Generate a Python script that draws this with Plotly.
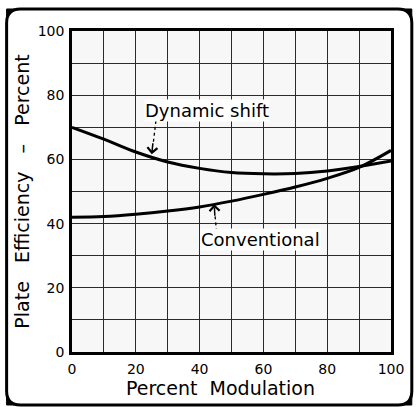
import plotly.graph_objects as go

# ---- data ----
modulation = [0, 10, 20, 30, 40, 50, 60, 70, 80, 90, 100]
dynamic_shift = [70, 66.3, 62.3, 59.2, 57.2, 55.9, 55.5, 55.6, 56.4, 57.8, 59.5]
conventional = [42, 42.2, 42.9, 43.9, 45.2, 47.0, 49.1, 51.4, 54.1, 57.5, 62.8]
x_tickvals = [0, 10, 20, 30, 40, 50, 60, 70, 80, 90, 100]
x_ticktext = ["0", "", "20", "", "40", "", "60", "", "80", "", "100"]
y_tickvals = [0, 10, 20, 30, 40, 50, 60, 70, 80, 90, 100]
y_ticktext = ["0", "", "20", "", "40", "", "60", "", "80", "", "100"]

FONT = "DejaVu Sans"
W, H = 416, 407
L, R, T, B = 72, 394, 31, 352

def px(x):
    return (x - L) / (R - L)

def py(y):
    return (B - y) / (B - T)

fig = go.Figure()
fig.add_trace(go.Scatter(x=modulation, y=dynamic_shift, mode="lines",
                         line=dict(color="black", width=3, shape="spline"),
                         name="Dynamic shift", showlegend=False))
fig.add_trace(go.Scatter(x=modulation, y=conventional, mode="lines",
                         line=dict(color="black", width=3, shape="spline"),
                         name="Conventional", showlegend=False))

axis_common = dict(range=[0, 100], showgrid=True, gridcolor="#2a2a2a", gridwidth=1.3,
                   showline=True, linecolor="black", linewidth=2.5, mirror=True,
                   zeroline=False, ticks="", tickfont=dict(family=FONT, size=14, color="black"))
fig.update_xaxes(tickvals=x_tickvals, ticktext=x_ticktext, ticklabelstandoff=2, **axis_common)
fig.update_yaxes(tickvals=y_tickvals, ticktext=y_ticktext, ticklabelstandoff=2,
                 title=dict(text="Plate   Efficiency   \u2013   Percent",
                            font=dict(family=FONT, size=19, color="black"), standoff=4),
                 **axis_common)

annotations = [
    dict(x=42.2, y=75.2, xref="x", yref="y", text="Dynamic shift", showarrow=False,
         font=dict(family=FONT, size=18, color="black"), bgcolor="white", borderpad=0),
    dict(x=59, y=34.9, xref="x", yref="y", text="Conventional", showarrow=False,
         font=dict(family=FONT, size=18, color="black"), bgcolor="white", borderpad=0),
    # arrow heads
    dict(x=25, y=61.6, ax=25.4, ay=65.5, xref="x", yref="y", axref="x", ayref="y",
         text="", showarrow=True, arrowhead=4, arrowsize=1.3, arrowwidth=1.5, arrowcolor="black"),
    dict(x=44.6, y=46.0, ax=44.8, ay=42.0, xref="x", yref="y", axref="x", ayref="y",
         text="", showarrow=True, arrowhead=4, arrowsize=1.3, arrowwidth=1.5, arrowcolor="black"),
    # x title
    dict(x=px(222), y=py(388), xref="paper", yref="paper", xanchor="center", yanchor="middle",
         text="Percent  Modulation",
         showarrow=False, font=dict(family=FONT, size=19, color="black")),
]

shapes = [
    dict(type="line", xref="x", yref="y", x0=26.3, y0=72.0, x1=25.4, y1=64.5,
         line=dict(color="black", width=1.3, dash="3px,3px")),
    dict(type="line", xref="x", yref="y", x0=45.3, y0=37.6, x1=44.8, y1=43,
         line=dict(color="black", width=1.3, dash="3px,3px")),
]

# rounded frame with dark corners
x0, x1, y0, y1, r = 6, 415, 9, 405, 14
def P(x, y):
    return f"{px(x):.5f},{py(y):.5f}"
frame = (f"M{P(x0 + r, y0)} L{P(x1 - r, y0)} Q{P(x1, y0)} {P(x1, y0 + r)} "
         f"L{P(x1, y1 - r)} Q{P(x1, y1)} {P(x1 - r, y1)} L{P(x0 + r, y1)} "
         f"Q{P(x0, y1)} {P(x0, y1 - r)} L{P(x0, y0 + r)} Q{P(x0, y0)} {P(x0 + r, y0)} Z")
shapes.append(dict(type="path", xref="paper", yref="paper", path=frame,
                   line=dict(color="black", width=3), layer="above"))
corners = [
    f"M{P(x0, y0)} L{P(x0 + r, y0)} Q{P(x0, y0)} {P(x0, y0 + r)} Z",
    f"M{P(x1, y0)} L{P(x1 - r, y0)} Q{P(x1, y0)} {P(x1, y0 + r)} Z",
    f"M{P(x0, y1)} L{P(x0 + r, y1)} Q{P(x0, y1)} {P(x0, y1 - r)} Z",
    f"M{P(x1, y1)} L{P(x1 - r, y1)} Q{P(x1, y1)} {P(x1, y1 - r)} Z",
]
for c in corners:
    shapes.append(dict(type="path", xref="paper", yref="paper", path=c,
                       fillcolor="black", line=dict(color="black", width=1), layer="above"))

fig.update_layout(width=W, height=H,
                  margin=dict(l=L, r=W - R, t=T, b=H - B),
                  paper_bgcolor="white", plot_bgcolor="#f7f7f7",
                  annotations=annotations, shapes=shapes, showlegend=False)

fig.write_html("out.html", config={"displayModeBar": False},
               post_script="document.body.style.margin='0';")
